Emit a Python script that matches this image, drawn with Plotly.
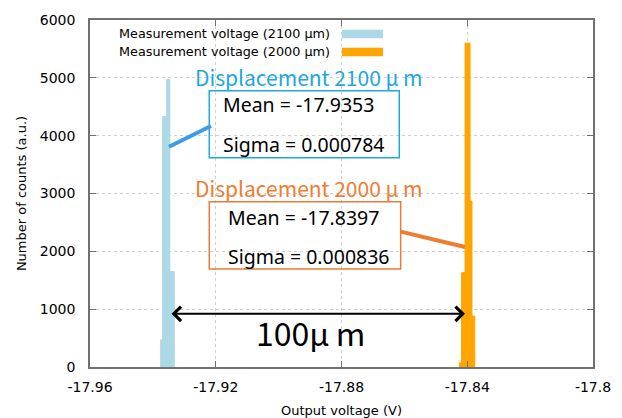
import plotly.graph_objects as go

# ---- data ----
blue_edges = [-17.9375, -17.9369, -17.9356, -17.9346, -17.9332]
blue_counts = [470, 4330, 4970, 1650]
orange_edges = [-17.8425, -17.8418, -17.8407, -17.8391, -17.8385, -17.8376]
orange_counts = [70, 1630, 5600, 2870, 880]

x_ticks = [-17.96, -17.92, -17.88, -17.84, -17.80]
x_tick_labels = ["-17.96", "-17.92", "-17.88", "-17.84", "-17.8"]
y_ticks = [0, 1000, 2000, 3000, 4000, 5000, 6000]
y_tick_labels = ["0", "1000", "2000", "3000", "4000", "5000", "6000"]

series_names = ["Measurement voltage (2100 μm)", "Measurement voltage (2000 μm)"]
mean_2100, sigma_2100 = -17.9353, 0.000784
mean_2000, sigma_2000 = -17.8397, 0.000836

BLUE = "#add8e6"
ORANGE = "#ffa500"
CYAN_TXT = "#1ea7e1"
ORANGE_TXT = "#ee7d31"


def centers_widths(edges):
    c = [(a + b) / 2 for a, b in zip(edges[:-1], edges[1:])]
    w = [(b - a) for a, b in zip(edges[:-1], edges[1:])]
    return c, w


bc, bw = centers_widths(blue_edges)
oc, ow = centers_widths(orange_edges)

fig = go.Figure()
fig.add_trace(go.Bar(x=bc, y=blue_counts, width=bw, marker=dict(color=BLUE, line=dict(width=1, color=BLUE)),
                     name=series_names[0], showlegend=False))
fig.add_trace(go.Bar(x=oc, y=orange_counts, width=ow, marker=dict(color=ORANGE, line=dict(width=1, color=ORANGE)),
                     name=series_names[1], showlegend=False))

TICKFONT = dict(family="DejaVu Sans", size=14, color="#000000")
fig.update_layout(
    width=622, height=418,
    margin=dict(l=90, r=29, t=20, b=51),
    paper_bgcolor="white", plot_bgcolor="white",
    barmode="overlay",
    showlegend=False,
    xaxis=dict(range=[-17.96, -17.80], tickvals=x_ticks, ticktext=x_tick_labels,
               ticks="inside", ticklen=6, tickwidth=1, tickcolor="#707070",
               showline=True, linecolor="#707070", linewidth=1.5, mirror="ticks",
               showgrid=True, gridcolor="#cfcfcf", griddash="dot", gridwidth=1,
               zeroline=False, tickfont=TICKFONT, ticklabelstandoff=6, automargin=False,
               title=dict(text="Output voltage (V)", font=dict(family="DejaVu Sans", size=13, color="#000"),
                          standoff=14)),
    yaxis=dict(range=[0, 6000], tickvals=y_ticks, ticktext=y_tick_labels,
               ticks="inside", ticklen=6, tickwidth=1, tickcolor="#707070",
               showline=True, linecolor="#707070", linewidth=1.5, mirror="ticks",
               showgrid=True, gridcolor="#cfcfcf", griddash="dot", gridwidth=1,
               zeroline=False, tickfont=TICKFONT, ticklabelstandoff=10, automargin=False,
               title=dict(text="Number of counts (a.u.)", font=dict(family="DejaVu Sans", size=13, color="#000"),
                          standoff=10)),
)

# ---- manual legend (text left of swatch, gnuplot style) ----
LEGFONT = dict(family="DejaVu Sans", size=12.8, color="#000")
for i, (name, col) in enumerate(zip(series_names, [BLUE, ORANGE])):
    yc = 0.9597 - i * 0.0519
    fig.add_annotation(xref="paper", yref="paper", x=0.4805, y=yc, text=name, showarrow=False,
                       xanchor="right", yanchor="middle", font=LEGFONT)
    fig.add_shape(type="rect", xref="paper", yref="paper", x0=0.501, x1=0.5825,
                  y0=yc - 0.0125, y1=yc + 0.0125, fillcolor=col, line=dict(width=0))

# ---- stat boxes ----
DISPFONT = "Noto Sans CJK JP"
BOXFONT = "Noto Sans"
UM = "μ\u2009m"

fig.add_annotation(x=-17.9272, y=5015, text="Displacement 2100 " + UM, showarrow=False, xanchor="left",
                   yanchor="middle", font=dict(family=DISPFONT, size=21, color=CYAN_TXT))
fig.add_shape(type="rect", x0=-17.92206, x1=-17.86162, y0=3619, y1=4778,
              line=dict(color=CYAN_TXT, width=1.5), fillcolor="rgba(255,255,255,0)")
fig.add_annotation(x=-17.91833, y=4531, text=f"Mean = {mean_2100}", showarrow=False, xanchor="left",
                   yanchor="middle", font=dict(family=BOXFONT, size=19.5, color="#000"))
fig.add_annotation(x=-17.91833, y=3839, text=f"Sigma = {sigma_2100:.6f}", showarrow=False, xanchor="left",
                   yanchor="middle", font=dict(family=BOXFONT, size=19.5, color="#000"))
fig.add_shape(type="line", x0=-17.93487, y0=3809, x1=-17.92151, y1=4167,
              line=dict(color="#3d9be9", width=4))

fig.add_annotation(x=-17.9272, y=3095, text="Displacement 2000 " + UM, showarrow=False, xanchor="left",
                   yanchor="middle", font=dict(family=DISPFONT, size=21, color=ORANGE_TXT))
fig.add_shape(type="rect", x0=-17.92206, x1=-17.86118, y0=1695, y1=2858,
              line=dict(color="#e97b34", width=1.5), fillcolor="rgba(255,255,255,0)")
fig.add_annotation(x=-17.91674, y=2577, text=f"Mean = {mean_2000}", showarrow=False, xanchor="left",
                   yanchor="middle", font=dict(family=BOXFONT, size=19.5, color="#000"))
fig.add_annotation(x=-17.91674, y=1919, text=f"Sigma = {sigma_2000:.6f}", showarrow=False, xanchor="left",
                   yanchor="middle", font=dict(family=BOXFONT, size=19.5, color="#000"))
fig.add_shape(type="line", x0=-17.86118, y0=2340, x1=-17.84073, y1=2075,
              line=dict(color=ORANGE_TXT, width=4))

# ---- 100 um arrow ----
fig.add_annotation(x=-17.84073, y=920, ax=-17.93455, ay=920, xref="x", yref="y", axref="x", ayref="y",
                   text="", showarrow=True, arrowhead=4, startarrowhead=4, arrowside="end+start",
                   arrowsize=1.4, startarrowsize=1.4, arrowwidth=2, arrowcolor="#000")
fig.add_annotation(x=-17.89, y=605, text="100" + UM, showarrow=False, xanchor="center", yanchor="middle",
                   font=dict(family=DISPFONT, size=32, color="#000"))

fig.write_html("out.html")
